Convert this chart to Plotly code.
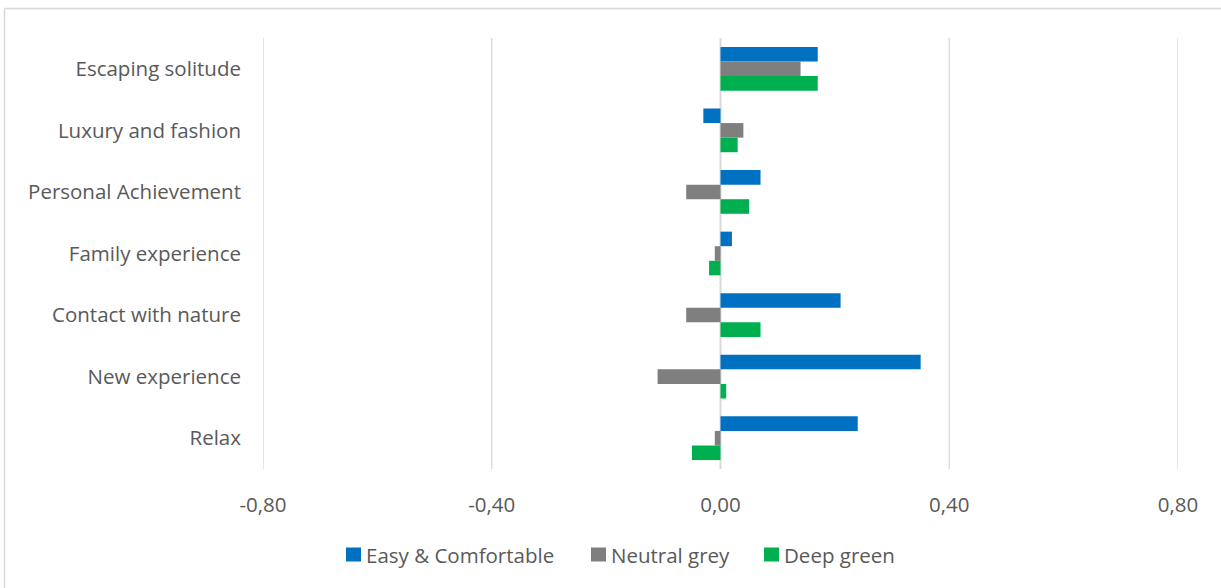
import plotly.graph_objects as go

# Motivation categories, listed top to bottom
categories = [
    "Escaping solitude",
    "Luxury and fashion",
    "Personal Achievement",
    "Family experience",
    "Contact with nature",
    "New experience",
    "Relax",
]

easy_comfortable = [0.17, -0.03, 0.07, 0.02, 0.21, 0.35, 0.24]
neutral_grey = [0.14, 0.04, -0.06, -0.01, -0.06, -0.11, -0.01]
deep_green = [0.17, 0.03, 0.05, -0.02, 0.07, 0.01, -0.05]

tick_values = [-0.8, -0.4, 0.0, 0.4, 0.8]
tick_labels = ["-0,80", "-0,40", "0,00", "0,40", "0,80"]

series_names = ["Easy & Comfortable", "Neutral grey", "Deep green"]
series_colors = ["#0070C0", "#7F7F7F", "#00B050"]
series_values = [easy_comfortable, neutral_grey, deep_green]

FONT = "'Open Sans', sans-serif"
FSIZE = 20.5
TEXT = "#595959"
GRID = "#D9D9D9"

# plot area in pixels
L, R, T, B = 263, 1178, 38, 469
W, H = R - L, B - T


def px_x(p):
    return (p - L) / W


def px_y(p):
    return (B - p) / H


fig = go.Figure()
for name, vals, color in zip(series_names, series_values, series_colors):
    fig.add_trace(go.Bar(
        y=categories, x=vals, name=name, orientation="h",
        marker=dict(color=color, line=dict(width=0)),
        showlegend=False,
    ))

shapes = []
# vertical gridlines, including the ones on the plot edges
for v in tick_values:
    shapes.append(dict(type="line", xref="x", yref="paper", x0=v, x1=v, y0=0, y1=1,
                       line=dict(color=GRID, width=1.3 if v != 0 else 2), layer="below"))
# chart frame (top and left edges)
shapes.append(dict(type="line", xref="paper", yref="paper",
                   x0=px_x(4.5), x1=1.2, y0=px_y(8.5), y1=px_y(8.5),
                   line=dict(color=GRID, width=1.5)))
shapes.append(dict(type="line", xref="paper", yref="paper",
                   x0=px_x(4.5), x1=px_x(4.5), y0=px_y(8.5), y1=-0.6,
                   line=dict(color=GRID, width=1.5)))

# legend: colour keys with labels
annotations = []
legend_keys = [346, 591, 764]
for name, color, kx in zip(series_names, series_colors, legend_keys):
    shapes.append(dict(type="rect", xref="paper", yref="paper",
                       x0=px_x(kx), x1=px_x(kx + 15), y0=px_y(561.5), y1=px_y(547.5),
                       fillcolor=color, line=dict(width=0)))
    annotations.append(dict(xref="paper", yref="paper", x=px_x(kx + 18), y=px_y(554.5),
                            xanchor="left", yanchor="middle", showarrow=False,
                            text=name, font=dict(family=FONT, size=FSIZE, color=TEXT)))

fig.update_layout(
    width=1221, height=588,
    barmode="group", bargap=0.29, bargroupgap=0,
    paper_bgcolor="white", plot_bgcolor="white",
    margin=dict(l=L, r=1221 - R, t=T, b=588 - B),
    font=dict(family=FONT, size=FSIZE, color=TEXT),
    showlegend=False,
    xaxis=dict(
        range=[-0.8, 0.8], tickvals=tick_values, ticktext=tick_labels,
        showgrid=False, zeroline=False, showline=False, ticks="",
        ticklabelstandoff=21,
        tickfont=dict(family=FONT, size=FSIZE, color=TEXT),
    ),
    yaxis=dict(
        autorange="reversed", showgrid=False, zeroline=False,
        showline=False, ticks="", ticklabelstandoff=21,
        tickfont=dict(family=FONT, size=FSIZE, color=TEXT),
    ),
    shapes=shapes,
    annotations=annotations,
)

fig.write_html("out.html")
